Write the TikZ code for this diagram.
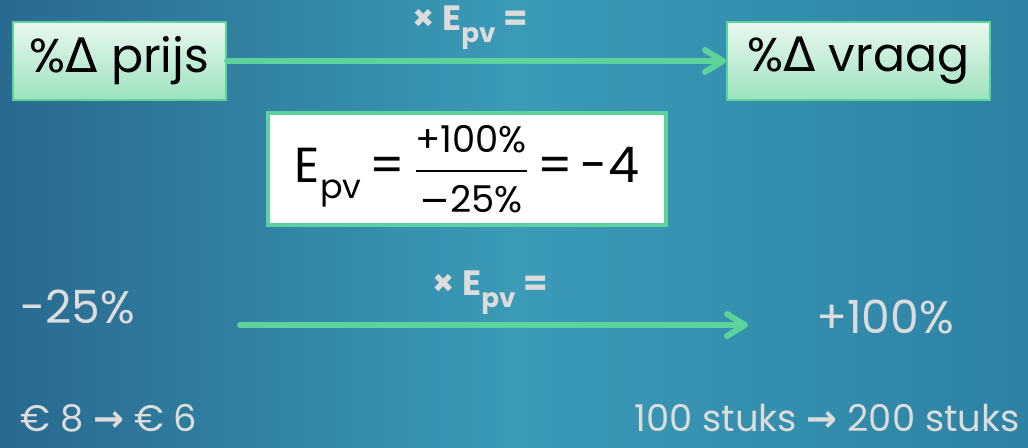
\documentclass[tikz,border=0pt]{standalone}
\usepackage{fontspec}
\usepackage{amsmath}
\setmainfont{Poppins}
\newfontfamily\symfont{DejaVu Sans}
\usetikzlibrary{positioning, arrows.meta}
\definecolor{BgDark}{HTML}{29698F}
\definecolor{BgLight}{HTML}{3A9BB7}
\definecolor{BgRight}{HTML}{2E82A4}
\definecolor{MintLine}{HTML}{5CD39A}
\definecolor{MintTop}{HTML}{EAF8F0}
\definecolor{MintBot}{HTML}{9CE2BD}
\definecolor{SoftGrey}{HTML}{DCDCDC}
\newcommand{\epvsub}[1]{\raisebox{-0.6ex}{\fontsize{#1}{#1}\selectfont pv}}

\begin{document}
\begin{tikzpicture}[
    box/.style={draw=MintLine, line width=1.2pt, top color=MintTop, bottom color=MintBot,
      minimum height=1.56cm, inner sep=0pt, font=\fontsize{27}{27}\selectfont},
    flow/.style={MintLine, line width=3.4pt, line cap=round,
      -{Straight Barb[length=3.6mm, width=4.4mm, round]},
      preaction={draw=black, opacity=0.18, transform canvas={yshift=-1.5pt}}},
    lab/.style={text=SoftGrey, font=\bfseries\fontsize{20}{20}\selectfont},
    val/.style={text=SoftGrey, inner sep=0pt, font=\fontsize{26}{26}\selectfont},
    small/.style={text=SoftGrey, inner sep=0pt, font=\fontsize{21}{21}\selectfont}
]
  % Background
  \shade[left color=BgDark, right color=BgRight, middle color=BgLight]
    (0,0) rectangle (20.56,8.94);
  \useasboundingbox (0,0) rectangle (20.56,8.94);
  % Top row
  \node[box, minimum width=4.26cm] (prijs) at (2.39,7.72) {\%{\symfont Δ} prijs};
  \node[box, minimum width=5.26cm] (vraag) at (17.17,7.72) {\%{\symfont Δ} vraag};
  \draw[flow] (prijs) -- (vraag);
  \node[lab] (toplab) at (9.4,8.38) {× E\epvsub{15} =};
  % Formula
  \node[draw=MintLine, line width=2pt, fill=white, minimum width=7.96cm, minimum height=2.24cm,
    inner sep=0pt, font=\fontsize{28}{28}\selectfont] (formula) at (9.34,5.56)
    {E\epvsub{19}\,=\,$\dfrac{\text{\fontsize{21}{21}\selectfont +100\%}}{\text{\fontsize{21}{21}\selectfont{\symfont −}25\%}}$\,=\,-4};
  % Bottom row
  \node[val, anchor=base west] (pctp) at (0.4,2.48) {-25\%};
  \node[val, anchor=base] (pctv) at (17.7,2.28) {+100\%};
  \coordinate (flowa) at (4.8,2.44);
  \coordinate (flowb) at (14.96,2.44);
  \draw[flow] (flowa) -- (flowb);
  \node[lab] (botlab) at (9.8,3.08) {× E\epvsub{15} =};
  % Examples
  \node[small, anchor=base west] (euro) at (0.4,0.32) {€ 8 {\symfont\bfseries →} € 6};
  \node[small, anchor=base east] (stuks) at (20.4,0.32) {100 stuks {\symfont\bfseries →} 200 stuks};
\end{tikzpicture}
\end{document}
